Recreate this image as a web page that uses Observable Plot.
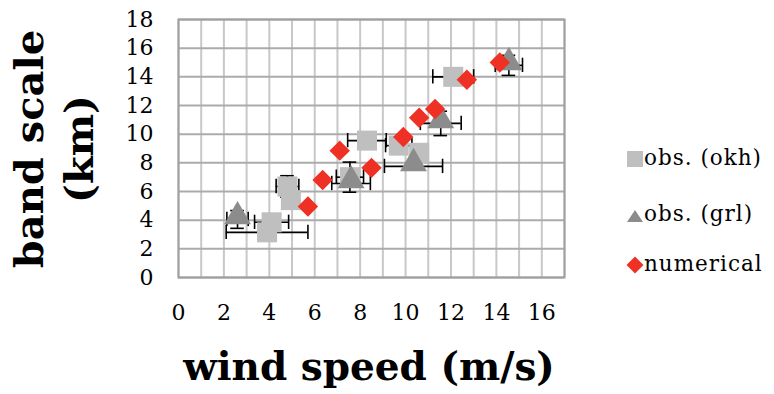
<!DOCTYPE html>
<html><head><meta charset="utf-8">
<script src="https://cdn.jsdelivr.net/npm/d3@7"></script>
<script src="https://cdn.jsdelivr.net/npm/@observablehq/plot@0.6"></script>
<style>
body{margin:0;background:#fff;}
#wrap{position:relative;width:774px;height:394px;font-family:"DejaVu Serif",serif;color:#000;overflow:hidden;}
#wrap svg.chart{position:absolute;left:0;top:0;}
.xt{position:absolute;left:0;width:738px;text-align:center;top:347px;font-weight:bold;font-size:39px;line-height:1;white-space:nowrap;}
.yt{position:absolute;left:0;top:0;width:240px;text-align:center;font-weight:bold;font-size:40px;line-height:50px;white-space:nowrap;transform-origin:0 0;}
.lg{position:absolute;left:626px;font-size:21.5px;letter-spacing:1px;white-space:nowrap;}
.lg svg{vertical-align:middle;}
</style></head><body><div id="wrap"></div>
<script>
// ---- data ----
const xTicks = [0,2,4,6,8,10,12,14,16];
const yTicks = [0,2,4,6,8,10,12,14,16,18];
const xGrid = d3.range(0,18,1);
const yGrid = d3.range(0,20,2);

// obs. (okh)
const okhX    = [3.9, 4.1, 4.95, 4.8, 7.55, 8.3, 9.7, 10.6, 12.1];
const okhY    = [3.15, 3.85, 5.4, 6.35, 7.0, 9.55, 9.2, 8.7, 14.0];
const okhXerr = [1.8, 0.75, 0.35, 0.5, 0.6, 0.85, 0.58, 0, 0.9];
const okhYerr = [0, 0, 0, 0.75, 1.05, 0, 0, 0, 0];

// obs. (grl)
const grlX    = [2.6, 7.6, 10.35, 11.55, 14.55];
const grlY    = [4.05, 6.56, 7.75, 10.75, 14.8];
const grlXerr = [0.47, 0.85, 1.28, 0.9, 0.6];
const grlYerr = [0.62, 0, 0, 0.85, 0.7];

// numerical
const numX = [5.7, 6.35, 7.1, 8.5, 9.9, 10.6, 11.3, 12.7, 14.15];
const numY = [4.95, 6.8, 8.85, 7.65, 9.8, 11.15, 11.75, 13.8, 15.0];

const legendLabels = ["obs. (okh)", "obs. (grl)", "numerical"];
const colors = {okh:"#BFBFBF", grl:"#8C8C8C", num:"#EE3124"};

// ---- tables ----
const okh = okhX.map((x,i)=>({x, y:okhY[i], xe:okhXerr[i], ye:okhYerr[i]}));
const grl = grlX.map((x,i)=>({x, y:grlY[i], xe:grlXerr[i], ye:grlYerr[i]}));
const num = numX.map((x,i)=>({x, y:numY[i]}));
const errs = okh.concat(grl);
const xe = errs.filter(d=>d.xe>0);
const ye = errs.filter(d=>d.ye>0);
const capH = 0.5, capW = 0.3;

const chart = Plot.plot({
  width: 774, height: 394,
  marginLeft: 178, marginTop: 19, marginBottom: 117, marginRight: 210,
  x: {domain:[0,17]},
  y: {domain:[0,18]},
  style: {fontFamily:"DejaVu Serif", fontSize:"22px", color:"#000", background:"transparent"},
  marks: [
    Plot.ruleX(xGrid, {x: d=>d, stroke:"#C8C8C8", strokeWidth:2}),
    Plot.ruleY(yGrid, {y: d=>d, stroke:"#ABABAB", strokeWidth:2}),
    Plot.frame({stroke:"#A0A0A0", strokeWidth:2}),
    Plot.axisX({ticks:xTicks, tickSize:0, tickPadding:27, label:null, tickFormat:d=>d}),
    Plot.axisY({ticks:yTicks, tickSize:0, tickPadding:25, label:null, tickFormat:d=>d}),
    // horizontal error bars
    Plot.ruleY(xe, {y:"y", x1:d=>d.x-d.xe, x2:d=>d.x+d.xe, stroke:"#000", strokeWidth:1.6}),
    Plot.ruleX(xe, {x:d=>d.x-d.xe, y1:d=>d.y-capH, y2:d=>d.y+capH, stroke:"#000", strokeWidth:1.6}),
    Plot.ruleX(xe, {x:d=>d.x+d.xe, y1:d=>d.y-capH, y2:d=>d.y+capH, stroke:"#000", strokeWidth:1.6}),
    // vertical error bars
    Plot.ruleX(ye, {x:"x", y1:d=>d.y-d.ye, y2:d=>d.y+d.ye, stroke:"#000", strokeWidth:1.6}),
    Plot.ruleY(ye, {y:d=>d.y+d.ye, x1:d=>d.x-capW, x2:d=>d.x+capW, stroke:"#000", strokeWidth:1.6}),
    Plot.ruleY(ye, {y:d=>d.y-d.ye, x1:d=>d.x-capW, x2:d=>d.x+capW, stroke:"#000", strokeWidth:1.6}),
    // markers
    Plot.dot(okh, {x:"x", y:"y", symbol:"square", r:11.3, fill:colors.okh, stroke:null}),
    Plot.dot(grl, {x:"x", y:"y", symbol:"triangle", r:10, fill:colors.grl, stroke:null, dy:-3}),
    Plot.dot(num, {x:"x", y:"y", symbol:"diamond2", r:9.2, fill:colors.num, stroke:null})
  ]
});
chart.classList.add("chart");
const wrap = document.getElementById("wrap");
wrap.appendChild(chart);

// axis titles
const xt = document.createElement("div");
xt.className = "xt"; xt.textContent = "wind speed (m/s)";
wrap.appendChild(xt);
const yt = document.createElement("div");
yt.className = "yt";
yt.innerHTML = "band scale<br>(km)";
yt.style.transform = "translate(4px, 269px) rotate(-90deg)";
wrap.appendChild(yt);

// legend
const sym = [
  `<svg width="18" height="18" viewBox="0 0 18 18"><rect x="1" y="1" width="16" height="16" fill="${colors.okh}"/></svg>`,
  `<svg width="18" height="18" viewBox="0 0 18 18"><path d="M1,16 L17,16 L9,4 Z" fill="${colors.grl}"/></svg>`,
  `<svg width="18" height="18" viewBox="0 0 18 18"><path d="M9,0.5 L17.5,9 L9,17.5 L0.5,9 Z" fill="${colors.num}"/></svg>`
];
const tops = [145, 201, 251];
legendLabels.forEach((t,i)=>{
  const d = document.createElement("div");
  d.className = "lg";
  d.style.top = tops[i] + "px";
  d.innerHTML = sym[i] + "<span>" + t + "</span>";
  wrap.appendChild(d);
});
</script>
</body></html>
